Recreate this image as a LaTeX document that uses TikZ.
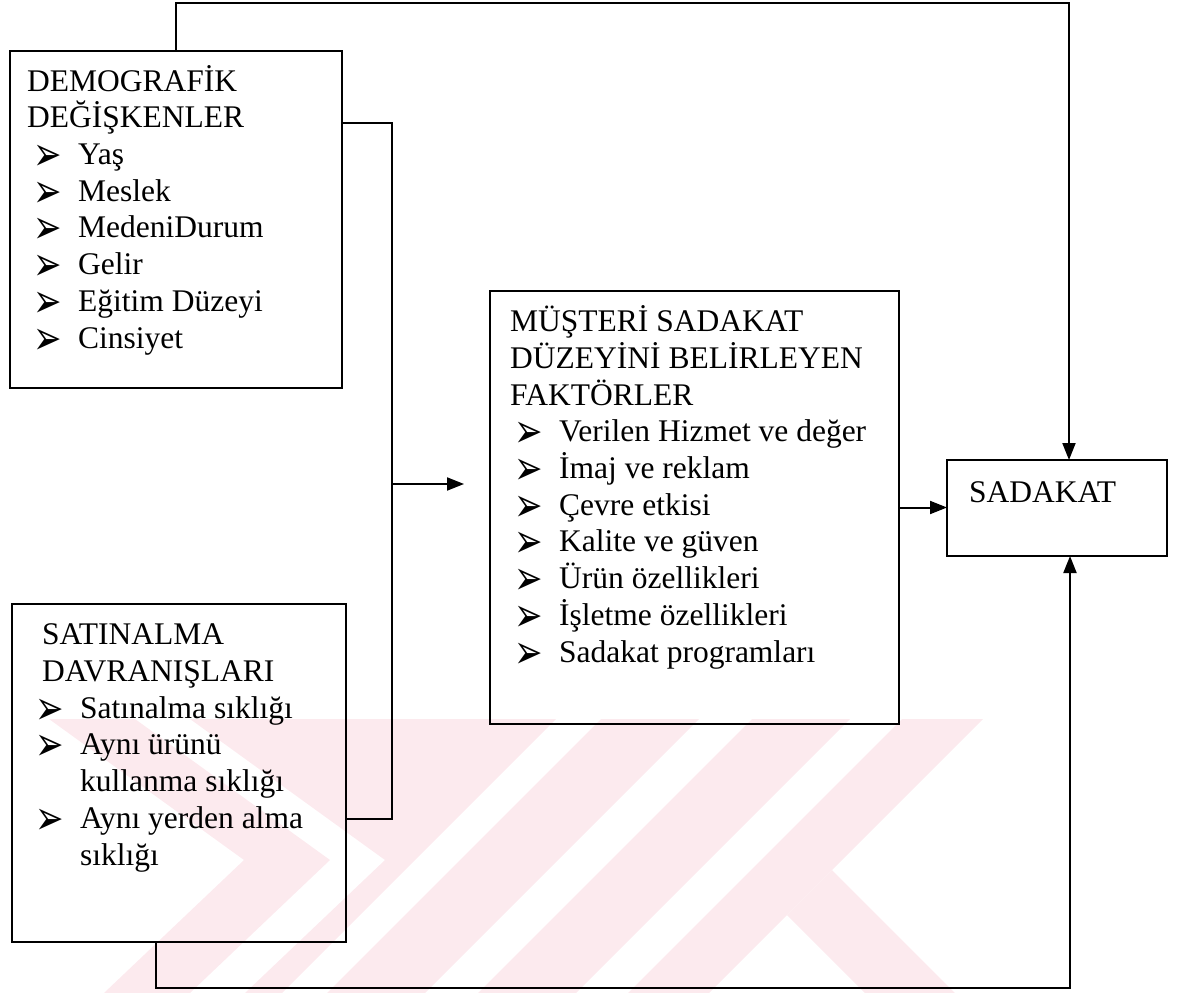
\documentclass[tikz,border=0pt]{standalone}
\usepackage{fontspec}
\setmainfont{Liberation Serif}
\newfontfamily\dejavu{DejaVu Sans}
\usetikzlibrary{arrows.meta,positioning}

\definecolor{filigran}{RGB}{252,234,238}
\newcommand{\bul}{\raisebox{-6pt}[0pt][0pt]{\scalebox{1}[1.4]{\dejavu\fontsize{34}{34}\selectfont ➢}}}
\newcommand{\itm}[1][6pt]{\hspace*{#1}\makebox[45pt][l]{\bul}}

\begin{document}
\begin{tikzpicture}[
  x=1pt, y=-1pt,
  every node/.style={font=\fontsize{31.5}{36.7}\selectfont},
  kutu/.style={draw, line width=2.3pt, inner sep=0pt, outer sep=0pt, anchor=north west},
  yazi/.style={align=left, inner sep=0pt, anchor=base west},
  hat/.style={line width=2pt},
  ok/.style={hat, -{Triangle[length=17pt,width=13pt]}}
]
  \useasboundingbox (0,0) rectangle (1181,993);

  % Filigran
  \begin{scope}
    \clip (0,719) rectangle (1181,993);
    \fill[filigran] (49,719) -- (135,719) -- (330,860) -- (190,993)
      -- (104,993) -- (244,860) -- cycle;
    \fill[filigran] (190,719) -- (556,719) -- (282,993) -- (245,993)
      -- (385,860) -- cycle;
    \fill[filigran] (601,719) -- (699,719) -- (425,993) -- (327,993) -- cycle;
    \fill[filigran] (752,719) -- (850,719) -- (576,993) -- (478,993) -- cycle;
    \fill[filigran] (902,719) -- (983,719) -- (709,993) -- (628,993) -- cycle;
    \fill[filigran] (832,870) -- (955,993) -- (865,993) -- (787,915) -- cycle;
  \end{scope}

  % Kutular
  \node[kutu, minimum width=332pt, minimum height=337pt] (demo) at (10,51) {};
  \node[kutu, minimum width=334pt, minimum height=338pt] (sat) at (12,604) {};
  \node[kutu, minimum width=409pt, minimum height=433pt] (mue) at (490,291) {};
  \node[kutu, minimum width=220pt, minimum height=96pt] (sad) at (947,460) {};

  % Metinler (base = son satirin taban cizgisi)
  \node[yazi] (demoyazi) at ([xshift=17pt,yshift=-297pt]demo.north west)
    {DEMOGRAFİK\\DEĞİŞKENLER\\\itm Yaş\\\itm Meslek\\\itm MedeniDurum\\
     \itm Gelir\\\itm Eğitim Düzeyi\\\itm Cinsiyet};
  \node[yazi] (satyazi) at ([xshift=23pt,yshift=-261pt]sat.north west)
    {\hspace*{7pt}SATINALMA\\\hspace*{7pt}DAVRANIŞLARI\\
     \itm[0pt]Satınalma sıklığı\\\itm[0pt]Aynı ürünü\\
     \hspace*{45pt}kullanma sıklığı\\\itm[0pt]Aynı yerden alma\\
     \hspace*{45pt}sıklığı};
  \node[yazi] (mueyazi) at ([xshift=20pt,yshift=-371pt]mue.north west)
    {MÜŞTERİ SADAKAT\\DÜZEYİNİ BELİRLEYEN\\FAKTÖRLER\\
     \itm[4pt]Verilen Hizmet ve değer\\\itm[4pt]İmaj ve reklam\\
     \itm[4pt]Çevre etkisi\\\itm[4pt]Kalite ve güven\\
     \itm[4pt]Ürün özellikleri\\\itm[4pt]İşletme özellikleri\\
     \itm[4pt]Sadakat programları};
  \node[yazi] (sadyazi) at ([xshift=22pt,yshift=-42pt]sad.north west) {SADAKAT};

  % Baglantilar
  \coordinate (bus) at (392,484);
  \draw[hat] ([yshift=-72pt]demo.north east) -| (bus)
    |- ([yshift=-215pt]sat.north east);
  \draw[ok, shorten >=26pt] (bus) -- (bus -| mue.west);
  \draw[ok] (mue.east) -- (mue.east -| sad.west);
  \draw[ok] (demo.north) -- ++(0,-48) -| ([xshift=12pt]sad.north);
  \draw[ok] ([xshift=-23pt]sat.south) -- ++(0,46) -| ([xshift=13pt]sad.south);
\end{tikzpicture}
\end{document}
